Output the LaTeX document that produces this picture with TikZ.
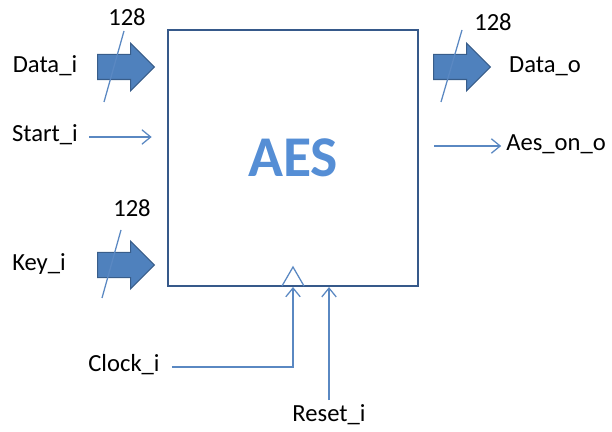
\documentclass[tikz,border=0pt]{standalone}
\usepackage{fontspec}
\setmainfont{Carlito}
\usetikzlibrary{shapes.arrows, arrows.meta, positioning}

\definecolor{busfill}{HTML}{4F81BD}
\definecolor{busline}{HTML}{385D8A}
\definecolor{sigline}{HTML}{5A88C2}
\definecolor{boxline}{HTML}{36598A}
\definecolor{aestext}{HTML}{558ED5}

\newcommand{\lblfont}{\fontsize{17.5}{21}\selectfont}

\begin{document}
\begin{tikzpicture}[
  x=0.025cm, y=-0.025cm,
  lbl/.style={font=\lblfont, text height=0.64em, text depth=0pt, inner sep=0pt},
  aesbox/.style={
    rectangle, draw=boxline, line width=1.5pt,
    minimum width=6.25cm, minimum height=6.4cm,
    font=\fontsize{41}{48}\selectfont\bfseries, text=aestext
  },
  bus/.style={
    single arrow, fill=busfill, draw=busline, line width=0.8pt,
    minimum height=1.42cm, inner xsep=0pt, inner ysep=0.3cm,
    single arrow head extend=0.28cm, anchor=tail
  },
  sig/.style={draw=sigline, line width=0.9pt},
  sigarr/.style={sig, -{Straight Barb[length=2.2mm, width=3.6mm]}}
]
  \useasboundingbox (0,0) rectangle (612,432);

  % Block
  \node[aesbox] (aes) at (293,158) {AES};

  % Inputs
  \node[lbl] (datai)  at (45,68)  {Data\_i};
  \node[lbl] (starti) at (45,137) {Start\_i};
  \node[lbl] (keyi)   at (39,266) {Key\_i};
  \node[lbl] (clocki) at (124,367) {Clock\_i};
  \node[lbl] (reseti) at (329,417) {Reset\_i};

  % Outputs
  \node[lbl] (datao)  at (545,68)  {Data\_o};
  \node[lbl] (aesono) at (556,146) {Aes\_on\_o};

  % Buses
  \node[bus] (databus) at (97,67)  {};
  \node[bus] (keybus)  at (97,265) {};
  \node[bus] (outbus)  at (433,67) {};

  \draw[sig] (124,31)  -- (104,102);
  \draw[sig] (121,230) -- (102,298);
  \draw[sig] (462,30)  -- (441,102);

  \node[lbl] (wdata) at (127,21)  {128};
  \node[lbl] (wkey)  at (132,212) {128};
  \node[lbl] (wout)  at (493,26)  {128};

  % Single signals
  \draw[sigarr, shorten <=0.28cm, shorten >=0.38cm] (starti.east) -- (starti.east -| aes.west);
  \draw[sigarr, shorten <=0.375cm, shorten >=0.12cm] (aesono.west -| aes.east) -- (aesono.west);

  % Clock and reset
  \coordinate (clkin) at (293,287);
  \draw[sig] (282,286) -- (293,267) -- (304,286);
  \draw[sigarr, shorten <=0.3cm] (clocki.east) -| (clkin);
  \draw[sigarr, shorten <=0.3cm] (reseti.north) -- (reseti.north |- aes.south);
\end{tikzpicture}
\end{document}
